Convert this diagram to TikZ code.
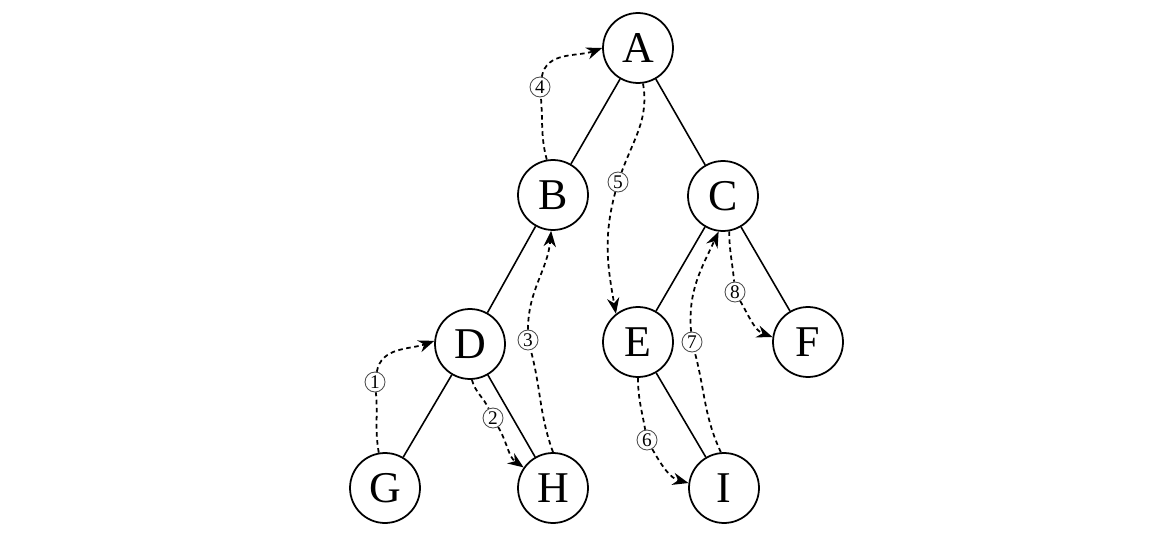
\documentclass[tikz,border=0pt]{standalone}
\usepackage{fontspec}
\setmainfont{Liberation Serif}
\usetikzlibrary{arrows.meta}
\begin{document}
\begin{tikzpicture}[x=0.02cm,y=-0.02cm,
 tnode/.style={circle,draw,line width=1pt,minimum size=1.4cm,inner sep=0pt,font=\fontsize{25}{25}\selectfont},
 lbl/.style={circle,draw=black!70,line width=0.5pt,minimum size=0.4cm,inner sep=0pt,font=\fontsize{11}{11}\selectfont},
 edge/.style={line width=0.9pt},
 trav/.style={line width=1pt,dash pattern=on 2.6pt off 2pt,-{Stealth[length=9pt,width=7pt]}}]
\useasboundingbox (0,0) rectangle (1170,554);
\node[tnode] (A) at (638,48) {A};
\node[tnode] (B) at (553,195) {B};
\node[tnode] (C) at (723,196) {C};
\node[tnode] (D) at (470,344) {D};
\node[tnode] (E) at (638,342) {E};
\node[tnode] (F) at (808,342) {F};
\node[tnode] (G) at (385,488) {G};
\node[tnode] (H) at (553,488) {H};
\node[tnode] (I) at (724,488) {I};
\draw[edge] (A) -- (B);
\draw[edge] (A) -- (C);
\draw[edge] (B) -- (D);
\draw[edge] (C) -- (E);
\draw[edge] (C) -- (F);
\draw[edge] (D) -- (G);
\draw[edge] (D) -- (H);
\draw[edge] (E) -- (I);
\node[lbl] (l1) at (375,382) {1};
\node[lbl] (l2) at (493,418) {2};
\node[lbl] (l3) at (528,340) {3};
\node[lbl] (l4) at (540,87) {4};
\node[lbl] (l5) at (618,182) {5};
\node[lbl] (l6) at (647,440) {6};
\node[lbl] (l7) at (692,342) {7};
\node[lbl] (l8) at (735,292) {8};
\draw[trav] (G.100) to[out=100,in=-85] (l1) to[out=80,in=200] (D.175);
\draw[trav] (D.-87) to[out=-75,in=115] (l2) to[out=-60,in=145] (H.145);
\draw[trav] (H.90) to[out=110,in=-75] (l3) to[out=90,in=-95] (B.-93);
\draw[trav] (B.100) to[out=105,in=-85] (l4) to[out=80,in=200] (A.180);
\draw[trav] (A.-82) to[out=-80,in=70] (l5) to[out=-105,in=100] (E.128);
\draw[trav] (E.-90) to[out=-90,in=100] (l6) to[out=-60,in=165] (I.172);
\draw[trav] (I.95) to[out=115,in=-75] (l7) to[out=95,in=-115] (C.-97);
\draw[trav] (C.-80) to[out=-90,in=95] (l8) to[out=-60,in=160] (F.172);
\end{tikzpicture}
\end{document}
